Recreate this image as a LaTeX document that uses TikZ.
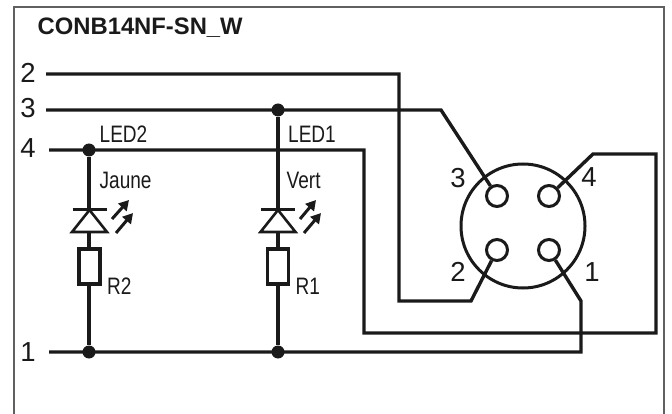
\documentclass[tikz,border=0pt]{standalone}
\usepackage{fontspec}
\setmainfont{Liberation Sans}
\newfontfamily\narrowf[FakeStretch=0.8]{Liberation Sans}
\usetikzlibrary{arrows.meta}
\definecolor{ink}{HTML}{1A1A1A}
\tikzset{
  wire/.style={draw=ink,line width=3.4pt,line join=miter},
  thin wire/.style={draw=ink,line width=3pt},
  dot/.style={circle,fill=ink,inner sep=0pt,minimum size=13pt},
  pin/.style={circle,draw=ink,line width=3pt,fill=white,inner sep=0pt,minimum size=21pt},
  shell/.style={circle,draw=ink,line width=3pt,inner sep=0pt,minimum size=124pt},
  res/.style={draw=ink,line width=3.2pt,fill=white,inner sep=0pt,minimum width=21pt,minimum height=35pt},
  big/.style={anchor=base,font=\fontsize{27.5}{28}\selectfont,text=ink,inner sep=0pt},
  small/.style={anchor=base west,font=\narrowf\fontsize{23.8}{24}\selectfont,text=ink,inner sep=0pt},
  led/.style={draw=ink,line width=3pt,-{Triangle[length=10pt,width=11pt]}},
  anode/.style={draw=ink,line width=2.6pt,fill=white,line join=miter},
}
\begin{document}
\begin{tikzpicture}[x=1pt,y=-1pt]
\useasboundingbox (0,0) rectangle (672,414);
\draw[gray!75!black,line width=1.2pt] (14,414) -- (14,7) -- (664,7) -- (664,414);
\node[anchor=base west,inner sep=0pt,font=\bfseries\fontsize{23.8}{24}\selectfont,text=ink] (title) at (37.5,35) {CONB14NF-SN\_W};
% terminal labels
\node[big] (t2) at (28,83) {2};
\node[big] (t3) at (28,118) {3};
\node[big] (t4) at (28,158) {4};
\node[big] (t1) at (28,361) {1};
% wire start points
\coordinate (s2) at (46,74);
\coordinate (s3) at (46,110);
\coordinate (s4) at (49,150);
\coordinate (s1) at (49,352);
% bend points
\coordinate (b2a) at (399,74);
\coordinate (b2b) at (399,301);
\coordinate (b2c) at (471,301);
\coordinate (b3a) at (441,110);
\coordinate (b4a) at (364,150);
\coordinate (b4b) at (364,333);
\coordinate (b4c) at (656,333);
\coordinate (b4d) at (656,154);
\coordinate (b4e) at (593,154);
\coordinate (b1a) at (581,352);
\coordinate (b1b) at (581,301);
% connector
\node[shell] (shell) at (523,226) {};
\node[pin] (p3) at (497,196) {};
\node[pin] (p4) at (549,196) {};
\node[pin] (p2) at (497,250) {};
\node[pin] (p1) at (549,250) {};
\node[big] (n3) at (458,188) {3};
\node[big] (n4) at (589,187) {4};
\node[big] (n2) at (458,281) {2};
\node[big] (n1) at (592,281) {1};
% junctions
\node[dot] (j4) at (89,150) {};
\node[dot] (j3) at (278,110) {};
\node[dot] (j1a) at (89,352) {};
\node[dot] (j1b) at (278,352) {};
% wires
\draw[wire] (s2) -- (b2a) -- (b2b) -- (b2c) -- (p2);
\draw[wire] (s3) -- (b3a) -- (p3);
\draw[wire] (s4) -- (b4a) -- (b4b) -- (b4c) -- (b4d) -- (b4e) -- (p4);
\draw[wire] (s1) -- (b1a) -- (b1b) -- (p1);
\draw[wire] (j4) -- (j1a);
\draw[wire] (j3) -- (j1b);
% resistors
\node[res] (r2) at (89.5,266.5) {};
\node[res] (r1) at (278,266.5) {};
% LED 2
\coordinate (a2l) at (72,232);
\coordinate (a2r) at (107,232);
\coordinate (a2t) at (89.5,210);
\coordinate (k2l) at (72.5,210);
\coordinate (k2r) at (106.5,210);
\draw[anode] (a2l) -- (a2r) -- (a2t) -- cycle;
\draw[thin wire] (k2l) -- (k2r);
\coordinate (u2a) at (112,219);
\coordinate (u2b) at (129,200);
\coordinate (v2a) at (116,233);
\coordinate (v2b) at (133,213);
\draw[led] (u2a) -- (u2b);
\draw[led] (v2a) -- (v2b);
% LED 1
\coordinate (a1l) at (260.5,232);
\coordinate (a1r) at (295.5,232);
\coordinate (a1t) at (278,210);
\coordinate (k1l) at (261,210);
\coordinate (k1r) at (295,210);
\draw[anode] (a1l) -- (a1r) -- (a1t) -- cycle;
\draw[thin wire] (k1l) -- (k1r);
\coordinate (u1a) at (300,219);
\coordinate (u1b) at (316,200);
\coordinate (v1a) at (304,233);
\coordinate (v1b) at (321,213);
\draw[led] (u1a) -- (u1b);
\draw[led] (v1a) -- (v1b);
% labels
\node[small] (l2) at (99.5,143) {LED2};
\node[small] (l1) at (288,143) {LED1};
\node[small] (ja) at (99.5,189) {Jaune};
\node[small] (ve) at (286.5,189) {Vert};
\node[small] (rb) at (107,294) {R2};
\node[small] (ra) at (295.5,294) {R1};
\end{tikzpicture}
\end{document}
